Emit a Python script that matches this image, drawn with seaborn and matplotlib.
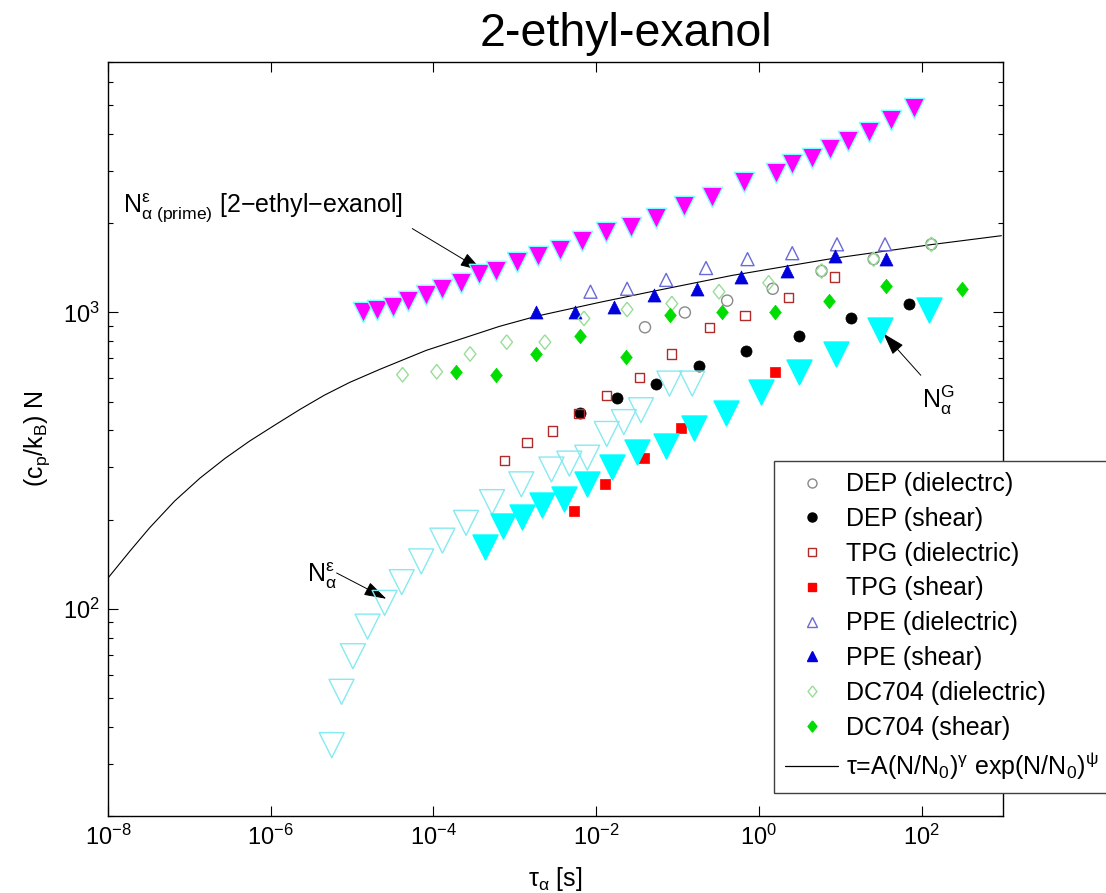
import numpy as np
import pandas as pd
import matplotlib
matplotlib.use("Agg")
import matplotlib.pyplot as plt
import seaborn as sns
from matplotlib.lines import Line2D
from matplotlib.ticker import FixedLocator, NullLocator, LogLocator, NullFormatter

# ---------------- data (log10 values) ----------------
# N_alpha^eps (prime) [2-ethyl-exanol]  (magenta filled down triangles)
log_tau_prime = [-4.87, -4.69, -4.50, -4.31, -4.09, -3.89, -3.66, -3.44, -3.23, -2.97,
                 -2.71, -2.44, -2.17, -1.88, -1.57, -1.26, -0.92, -0.58, -0.18, 0.21,
                 0.41, 0.65, 0.87, 1.10, 1.35, 1.62, 1.90]
log_N_prime = [3.00, 3.01, 3.02, 3.04, 3.06, 3.08, 3.10, 3.13, 3.14, 3.17,
               3.19, 3.21, 3.24, 3.27, 3.29, 3.32, 3.36, 3.39, 3.44, 3.47,
               3.50, 3.52, 3.55, 3.58, 3.61, 3.65, 3.69]
# N_alpha^G (cyan filled down triangles)
log_tau_G = [-3.37, -3.15, -2.91, -2.66, -2.39, -2.11, -1.80, -1.50, -1.14, -0.80,
             -0.41, 0.03, 0.49, 0.95, 1.49, 2.09]
log_N_G = [2.21, 2.28, 2.31, 2.35, 2.37, 2.42, 2.48, 2.53, 2.55, 2.61,
           2.66, 2.73, 2.80, 2.86, 2.94, 3.01]
# N_alpha^eps (cyan open down triangles)
log_tau_eps = [-5.25, -5.13, -4.99, -4.81, -4.60, -4.39, -4.15, -3.89, -3.60, -3.28,
               -2.92, -2.55, -2.33, -2.11, -1.87, -1.66, -1.45, -1.10, -0.82]
log_N_eps = [1.54, 1.72, 1.84, 1.94, 2.02, 2.09, 2.16, 2.23, 2.29, 2.36,
             2.42, 2.47, 2.49, 2.51, 2.59, 2.63, 2.67, 2.76, 2.76]
# DEP
log_tau_dep_d = [-1.40, -0.91, -0.39, 0.17, 0.77, 1.41, 2.12]
log_N_dep_d = [2.95, 3.00, 3.04, 3.08, 3.14, 3.18, 3.23]
log_tau_dep_s = [-2.20, -1.74, -1.26, -0.74, -0.16, 0.49, 1.13, 1.85]
log_N_dep_s = [2.66, 2.71, 2.76, 2.82, 2.87, 2.92, 2.98, 3.03]
# TPG
log_tau_tpg_d = [-3.13, -2.85, -2.54, -2.21, -1.87, -1.47, -1.07, -0.61, -0.17, 0.36, 0.93]
log_N_tpg_d = [2.50, 2.56, 2.60, 2.66, 2.72, 2.78, 2.86, 2.95, 2.99, 3.05, 3.12]
log_tau_tpg_s = [-2.27, -1.89, -1.41, -0.96, 0.20]
log_N_tpg_s = [2.33, 2.42, 2.51, 2.61, 2.80]
# PPE
log_tau_ppe_d = [-2.07, -1.62, -1.14, -0.65, -0.14, 0.41, 0.96, 1.55]
log_N_ppe_d = [3.07, 3.08, 3.11, 3.15, 3.18, 3.20, 3.23, 3.23]
log_tau_ppe_s = [-2.74, -2.26, -1.78, -1.29, -0.76, -0.22, 0.34, 0.93, 1.56]
log_N_ppe_s = [3.00, 3.00, 3.02, 3.06, 3.08, 3.12, 3.14, 3.19, 3.18]
# DC704
log_tau_dc_d = [-4.38, -3.96, -3.55, -3.10, -2.63, -2.15, -1.62, -1.07, -0.49, 0.12, 0.77, 1.41, 2.12]
log_N_dc_d = [2.79, 2.80, 2.86, 2.90, 2.90, 2.98, 3.01, 3.03, 3.07, 3.10, 3.14, 3.18, 3.23]
log_tau_dc_s = [-3.72, -3.23, -2.74, -2.20, -1.63, -1.09, -0.45, 0.20, 0.86, 1.56, 2.49]
log_N_dc_s = [2.80, 2.79, 2.86, 2.92, 2.85, 2.99, 3.00, 3.00, 3.04, 3.09, 3.08]
# fitted curve tau = A (N/N0)^gamma exp(N/N0)^psi
log_tau_fit = [-8.00, -7.73, -7.49, -7.18, -6.87, -6.56, -6.26, -5.95, -5.64, -5.34,
               -5.03, -4.66, -4.09, -3.19, -2.74, -1.96, -1.31, -0.33, 0.90, 2.12, 2.98]
log_N_fit = [2.104, 2.195, 2.273, 2.364, 2.441, 2.508, 2.566, 2.620, 2.673, 2.721,
             2.764, 2.808, 2.872, 2.953, 2.987, 3.034, 3.071, 3.125, 3.182, 3.229, 3.259]

legend_labels = ["DEP (dielectrc)", "DEP (shear)", "TPG (dielectric)", "TPG (shear)",
                 "PPE (dielectric)", "PPE (shear)", "DC704 (dielectric)", "DC704 (shear)",
                 r"$\mathrm{\tau}$=A(N/N$_0$)$^{\mathrm{\gamma}}$ exp(N/N$_0$)$^{\mathrm{\psi}}$"]
x_ticks = [1e-8, 1e-6, 1e-4, 1e-2, 1e0, 1e2]

# ---------------- style ----------------
sns.set_style("ticks")
plt.rcParams["font.family"] = ["Liberation Sans", "DejaVu Sans"]
plt.rcParams["mathtext.fontset"] = "custom"
plt.rcParams["mathtext.rm"] = "Liberation Sans"
plt.rcParams["mathtext.it"] = "Liberation Sans:italic"
plt.rcParams["mathtext.bf"] = "Liberation Sans:bold"
plt.rcParams["mathtext.sf"] = "Liberation Sans"
plt.rcParams["axes.unicode_minus"] = True
plt.rcParams["text.color"] = "black"
plt.rcParams["axes.labelcolor"] = "black"
plt.rcParams["xtick.color"] = "black"
plt.rcParams["ytick.color"] = "black"

W, H = 1106, 893
fig = plt.figure(figsize=(W / 100, H / 100), dpi=100)
ax = fig.add_axes([108 / W, 1 - 816 / H, (1003 - 108) / W, (816 - 62) / H])
ax.set_xscale("log")
ax.set_yscale("log")

diamond = [(0, 1), (0.8, 0), (0, -1), (-0.8, 0), (0, 1)]


def frame(lt, ln):
    return pd.DataFrame({"tau": 10.0 ** np.asarray(lt), "N": 10.0 ** np.asarray(ln)})


def scat(lt, ln, marker, s, fc, ec, lw, z):
    sns.scatterplot(data=frame(lt, ln), x="tau", y="N", ax=ax, marker=marker, s=s,
                    facecolor=fc, edgecolor=ec, linewidth=lw, zorder=z, legend=False)


# fit curve
sns.lineplot(data=frame(log_tau_fit, log_N_fit), x="tau", y="N", ax=ax, color="black",
             linewidth=0.8, sort=False, estimator=None, zorder=2, legend=False)

c_dep_d, c_dep_s = "#8a8a8a", "#000000"
c_tpg_d, c_tpg_s = "#b22a2a", "#ff0000"
c_ppe_d, c_ppe_s = "#6a6ad8", "#0000dd"
c_dc_d, c_dc_s = "#99dd99", "#00dd00"

scat(log_tau_dep_d, log_N_dep_d, "o", 64, "none", c_dep_d, 1.0, 3)
scat(log_tau_dep_s, log_N_dep_s, "o", 64, c_dep_s, c_dep_s, 0.5, 3)
scat(log_tau_tpg_d, log_N_tpg_d, "s", 44, "none", c_tpg_d, 1.0, 3)
scat(log_tau_tpg_s, log_N_tpg_s, "s", 44, c_tpg_s, c_tpg_s, 0.5, 3)
scat(log_tau_ppe_d, log_N_ppe_d, "^", 88, "none", c_ppe_d, 1.0, 3)
scat(log_tau_ppe_s, log_N_ppe_s, "^", 88, c_ppe_s, c_ppe_s, 0.5, 3)
scat(log_tau_dc_d, log_N_dc_d, diamond, 110, "none", c_dc_d, 1.0, 3)
scat(log_tau_dc_s, log_N_dc_s, diamond, 110, c_dc_s, c_dc_s, 0.5, 3)

scat(log_tau_eps, log_N_eps, "v", 324, "none", "#85eaf0", 1.0, 4)
scat(log_tau_G, log_N_G, "v", 324, "#00ffff", "#00ffff", 1.0, 4)
scat(log_tau_prime, log_N_prime, "v", 215, "#ff00ff", "#7fffff", 1.0, 5)

# ---------------- axes ----------------
ax.set_xlim(1e-8, 1e3)
ax.set_ylim(20, 7000)
ax.xaxis.set_major_locator(FixedLocator(x_ticks))
ax.xaxis.set_minor_locator(NullLocator())
ax.yaxis.set_major_locator(LogLocator(base=10))
ax.yaxis.set_minor_locator(LogLocator(base=10, subs=np.arange(2, 10)))
ax.yaxis.set_minor_formatter(NullFormatter())
ax.tick_params(which="both", direction="in", top=True, right=True, labelsize=17,
               colors="black")
ax.tick_params(which="major", length=7, width=0.8, pad=6)
ax.tick_params(which="minor", length=3.5, width=0.8)
for sp in ax.spines.values():
    sp.set_color("black")
    sp.set_linewidth(1.0)

ax.set_xlabel(r"$\mathrm{\tau}_{\mathrm{\alpha}}$ [s]", fontsize=18, labelpad=11,
              color="black")
ax.set_ylabel(r"(c$_{\mathrm{p}}$/k$_{\mathrm{B}}$) N", fontsize=18, labelpad=8,
              color="black")

fig.text(626 / W, 1 - 46 / H, "2-ethyl-exanol", fontsize=33.5, ha="center",
         va="baseline", color="black")

# ---------------- annotations ----------------
arrow = dict(arrowstyle="-|>,head_length=0.7,head_width=0.22", color="black", lw=0.7,
             mutation_scale=20, shrinkA=0, shrinkB=0)
ax.text(10 ** -7.82, 10 ** 3.337,
        r"N$^{\mathrm{\varepsilon}}_{\mathrm{\alpha}\ \mathrm{(prime)}}$ [2$-$ethyl$-$exanol]",
        fontsize=18, ha="left", va="baseline", color="black")
ax.annotate("", xy=(10 ** -3.40, 10 ** 3.141), xytext=(10 ** -4.26, 10 ** 3.283),
            arrowprops=arrow)
ax.text(10 ** -5.56, 10 ** 2.091, r"N$^{\mathrm{\varepsilon}}_{\mathrm{\alpha}}$",
        fontsize=18, ha="left", va="baseline", color="black")
ax.annotate("", xy=(10 ** -4.58, 10 ** 2.034), xytext=(10 ** -5.19, 10 ** 2.121),
            arrowprops=arrow)
ax.text(10 ** 2.0, 10 ** 2.677, r"N$^{\mathrm{G}}_{\mathrm{\alpha}}$",
        fontsize=18, ha="left", va="baseline", color="black")
ax.annotate("", xy=(10 ** 1.53, 10 ** 2.929), xytext=(10 ** 1.99, 10 ** 2.788),
            arrowprops=arrow)

# ---------------- legend ----------------
handles = [
    Line2D([], [], ls="none", marker="o", ms=6.5, mfc="none", mec=c_dep_d, mew=1.0),
    Line2D([], [], ls="none", marker="o", ms=6.5, mfc=c_dep_s, mec=c_dep_s),
    Line2D([], [], ls="none", marker="s", ms=5.5, mfc="none", mec=c_tpg_d, mew=1.0),
    Line2D([], [], ls="none", marker="s", ms=5.5, mfc=c_tpg_s, mec=c_tpg_s),
    Line2D([], [], ls="none", marker="^", ms=7, mfc="none", mec=c_ppe_d, mew=1.0),
    Line2D([], [], ls="none", marker="^", ms=7, mfc=c_ppe_s, mec=c_ppe_s),
    Line2D([], [], ls="none", marker=diamond, ms=8, mfc="none", mec=c_dc_d, mew=1.0),
    Line2D([], [], ls="none", marker=diamond, ms=8, mfc=c_dc_s, mec=c_dc_s),
    Line2D([], [], color="black", lw=0.9),
]
leg = ax.legend(handles, legend_labels, loc="upper left",
                bbox_to_anchor=(774 / W, 1 - 461 / H), bbox_transform=fig.transFigure,
                frameon=True, fancybox=False, framealpha=1, edgecolor="#404040",
                fontsize=18, handlelength=2.1, handletextpad=0.35, labelspacing=0.43,
                borderpad=0.45, borderaxespad=0, labelcolor="black")
leg.get_frame().set_linewidth(1.0)
leg.set_zorder(10)

fig.savefig("out.png", dpi=100)
